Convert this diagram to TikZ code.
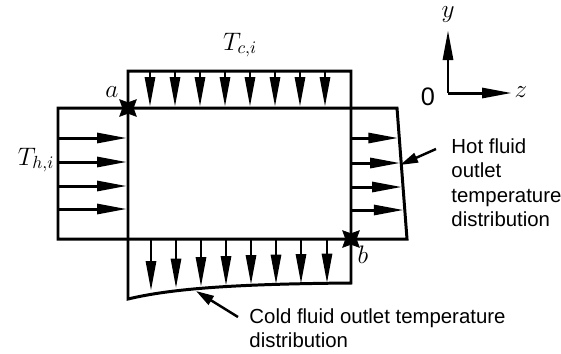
\documentclass[tikz,border=0pt]{standalone}
\usepackage{fontspec}
\setsansfont{Liberation Sans}
\usetikzlibrary{arrows.meta, shapes.geometric}

\begin{document}
\begin{tikzpicture}[x=0.02cm, y=-0.02cm, line width=1.7pt,
    flow/.style={-{Triangle[length=6mm, width=2mm]}},
    pointer/.style={line width=1.4pt, -{Triangle[length=3.6mm, width=2mm]}},
    joint/.style={star, star points=4, star point ratio=0.45, fill, draw, line width=0.4pt, inner sep=0pt, minimum size=6pt},
    note/.style={font=\sffamily\fontsize{11.6}{13.9}\selectfont, align=left, anchor=north west, inner sep=0pt}]
  \useasboundingbox (0,0) rectangle (561,353);

  % core and the two inlet / outlet frames
  \coordinate (a) at (128,108);
  \coordinate (b) at (351,239);
  \draw (128,71) -- (128,299) .. controls (170,289) and (230,284) .. (351,283) -- (351,71) -- cycle;
  \draw (397,108) -- (58,108) -- (58,239) -- (407,239) -- cycle;

  % cold fluid in and out
  \foreach \x in {150,175,...,325}
    \draw[flow] (\x,71) -- (\x,107);
  \foreach \x/\y in {151/291, 176/288.5, 201/287, 226/286, 251/285, 276/284.5, 301/284, 327/283.5}
    \draw[flow] (\x,239) -- (\x,\y);

  % hot fluid in and out
  \foreach \y in {138,162,186,209}
    \draw[flow] (58,\y) -- (127,\y);
  \foreach \y in {138,163,187,210}
    \draw[flow] (351,\y) -- ({396+10*(\y-108)/131},\y);

  \node[joint] (ja) at (a) {};
  \node[joint] (jb) at (b) {};
  \node (la) at (112,92) {\Large $a$};
  \node (lb) at (363,255) {\Large $b$};
  \node (tci) at (240,45) {\Large $T_{c,i}$};
  \node (thi) at (36,160) {\Large $T_{h,i}$};

  % axes
  \coordinate (o) at (448,93);
  \coordinate (ytip) at (448,30);
  \coordinate (ztip) at (512,93);
  \draw[flow] (o) -- (ytip);
  \draw[flow] (o) -- (ztip);
  \node (ly) at (448,15) {\Large $y$};
  \node (lz) at (521,92) {\Large $z$};
  \node[font=\sffamily\Large] (lo) at (428,97) {0};

  % notes
  \node[note] (hotnote) at (450,137) {Hot fluid\\outlet\\temperature\\distribution};
  \node[note] (coldnote) at (248,307) {Cold fluid outlet temperature\\distribution};
  \coordinate (hottip) at (400,165);
  \coordinate (coldtip) at (196,291);
  \draw[pointer] (436,149) -- (hottip);
  \draw[pointer] (238,317) -- (coldtip);
\end{tikzpicture}
\end{document}
